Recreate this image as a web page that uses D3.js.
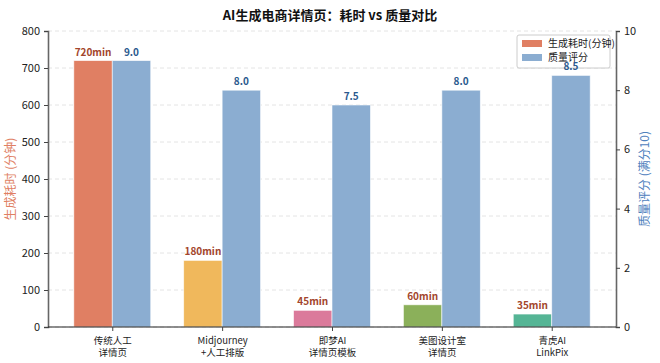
<!DOCTYPE html>
<html><head><meta charset="utf-8">
<script src="https://cdn.jsdelivr.net/npm/d3@7"></script>
<style>body{margin:0;background:#fff;} text{font-family:"Noto Sans CJK SC","Noto Sans",sans-serif;}</style>
</head><body><svg id="c" width="660" height="363"></svg>
<script>
const categories = [["传统人工","详情页"],["Midjourney","+人工排版"],["即梦AI","详情页模板"],["美图设计室","详情页"],["青虎AI","LinkPix"]];
const timeValues = [720, 180, 45, 60, 35];
const qualityValues = [9.0, 8.0, 7.5, 8.0, 8.5];
const timeColors = ["#E07F63","#F0B85C","#DB7A9B","#8BB05A","#55B595"];
const qualityColor = "#8BADD1";
const leftTicks = [0,100,200,300,400,500,600,700,800];
const rightTicks = [0,2,4,6,8,10];

const svg = d3.select("#c");
const L = 48, R = 616, T = 31, B = 327;
const bw = 0.35;
const x = d3.scaleLinear().domain([-0.585, 4.585]).range([L, R]);
const yL = d3.scaleLinear().domain([0, 800]).range([B, T]);
const yR = d3.scaleLinear().domain([0, 10]).range([B, T]);

// grid
svg.append("g").selectAll("line").data(leftTicks).join("line")
  .attr("x1", L).attr("x2", R).attr("y1", d=>yL(d)).attr("y2", d=>yL(d))
  .attr("stroke", "#ddd").attr("stroke-width", 0.8).attr("stroke-dasharray", "4,3");

// bars
const idx = d3.range(categories.length);
svg.append("g").selectAll("rect").data(idx).join("rect")
  .attr("x", i=>x(i-bw)).attr("width", x(bw)-x(0))
  .attr("y", i=>yL(timeValues[i])).attr("height", i=>B-yL(timeValues[i]))
  .attr("fill", i=>timeColors[i]).attr("stroke", "#fff").attr("stroke-opacity", 0.7).attr("stroke-width", 0.8);

svg.append("g").selectAll("text").data(idx).join("text")
  .attr("x", i=>x(i-bw/2)).attr("y", i=>yL(timeValues[i])-5)
  .attr("text-anchor","middle").attr("font-size", 10).attr("font-weight","bold")
  .attr("fill","#A3462C").text(i=>timeValues[i]+"min");

// legend
const lg = svg.append("g").attr("transform","translate(517,35)");
lg.append("rect").attr("width",93).attr("height",33).attr("rx",2)
  .attr("fill","#fff").attr("fill-opacity",0.8).attr("stroke","#ccc");
const items = [["生成耗时(分钟)", timeColors[0]],["质量评分", qualityColor]];
items.forEach((d,k)=>{
  lg.append("rect").attr("x",5).attr("y",5+k*14).attr("width",20).attr("height",7).attr("fill",d[1]);
  lg.append("text").attr("x",31).attr("y",12+k*14).attr("font-size",10).attr("fill","#222").text(d[0]);
});

svg.append("g").selectAll("rect").data(idx).join("rect")
  .attr("x", i=>x(i)).attr("width", x(bw)-x(0))
  .attr("y", i=>yR(qualityValues[i])).attr("height", i=>B-yR(qualityValues[i]))
  .attr("fill", qualityColor).attr("stroke", "#fff").attr("stroke-opacity", 0.7).attr("stroke-width", 0.8);
svg.append("g").selectAll("text").data(idx).join("text")
  .attr("x", i=>x(i+bw/2)).attr("y", i=>yR(qualityValues[i])-5)
  .attr("text-anchor","middle").attr("font-size", 10).attr("font-weight","bold")
  .attr("fill","#2B5A8E").text(i=>qualityValues[i].toFixed(1));

// axes
const axL = svg.append("g").attr("transform",`translate(${L},0)`)
  .call(d3.axisLeft(yL).tickValues(leftTicks).tickSize(4).tickPadding(4));
const axR = svg.append("g").attr("transform",`translate(${R},0)`)
  .call(d3.axisRight(yR).tickValues(rightTicks).tickSize(4).tickPadding(4));
[axL, axR].forEach(a=>{
  a.select(".domain").attr("stroke","#666").attr("stroke-width",1.6);
  a.selectAll(".tick line").attr("stroke","#444");
  a.selectAll(".tick text").attr("font-size",11).attr("fill","#222");
});
const axB = svg.append("g").attr("transform",`translate(0,${B})`)
  .call(d3.axisBottom(x).tickValues(idx).tickSize(4).tickFormat(""));
axB.select(".domain").attr("stroke","#222").attr("stroke-width",1.2).attr("d",`M${L},0H${R}`);
axB.selectAll(".tick line").attr("stroke","#444");
axB.selectAll(".tick").each(function(i){
  const g = d3.select(this);
  categories[i].forEach((s,k)=>g.append("text").attr("text-anchor","middle").attr("font-size",9.5)
    .attr("fill","#222").attr("x",0).attr("y",16.5+k*12).text(s));
});

// axis titles
svg.append("text").attr("transform",`translate(15,${(T+B)/2}) rotate(-90)`)
  .attr("text-anchor","middle").attr("font-size",12).attr("fill","#E07F63").text("生成耗时 (分钟)");
svg.append("text").attr("transform",`translate(649,${(T+B)/2}) rotate(-90)`)
  .attr("text-anchor","middle").attr("font-size",12).attr("fill","#4F81BD").text("质量评分 (满分10)");

// title
svg.append("text").attr("x",330).attr("y",20).attr("text-anchor","middle")
  .attr("font-size",13).attr("font-weight","bold").attr("fill","#111").text("AI生成电商详情页：耗时 vs 质量对比");
</script></body></html>
